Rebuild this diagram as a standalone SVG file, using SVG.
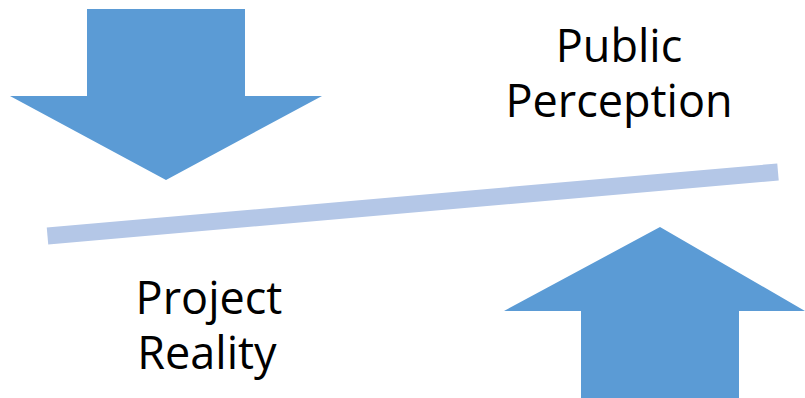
<svg xmlns="http://www.w3.org/2000/svg" width="805" height="398" viewBox="0 0 805 398">
<style>
.arrow{fill:#5B9BD5}
.lbl{font-family:"Open Sans","Liberation Sans",sans-serif;font-size:45px;fill:#000;text-anchor:middle}
</style>
<rect width="805" height="398" fill="#fff"/>
<g id="down-arrow"><polygon class="arrow" points="87,9 245,9 245,96 322,96 166,180 10,96 87,96"/></g>
<g id="up-arrow"><polygon class="arrow" points="660,227 805,311 739,311 739,398 581,398 581,311 504,311"/></g>
<g id="connectors"><line x1="47.5" y1="236" x2="778" y2="172" stroke="#B4C7E7" stroke-width="17"/></g>
<g id="public-perception"><text class="lbl" x="619" y="62">Public</text><text class="lbl" x="619" y="117">Perception</text></g>
<g id="project-reality"><text class="lbl" x="209" y="314">Project</text><text class="lbl" x="207" y="369">Reality</text></g>
</svg>
